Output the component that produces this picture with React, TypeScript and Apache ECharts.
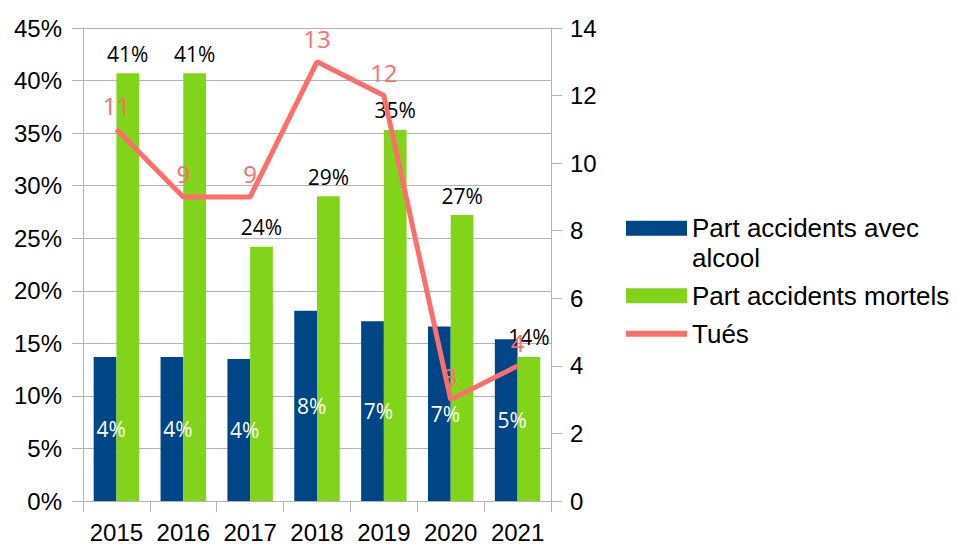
import React, { useEffect, useRef } from "react";
import * as echarts from "echarts";

const categories = ["2015", "2016", "2017", "2018", "2019", "2020", "2021"];
const alcoolShare = [13.7, 13.7, 13.5, 18.1, 17.1, 16.6, 15.4];
const mortelsShare = [40.7, 40.7, 24.2, 29.0, 35.3, 27.2, 13.7];
const tues = [11, 9, 9, 13, 12, 3, 4];

const seriesNames = ["Part accidents avec alcool", "Part accidents mortels", "Tués"];

const BLUE = "#004586";
const GREEN = "#81d41a";
const SALMON = "#ff6d6d";
const GRID = "#b3b3b3";
const AXIS_FONT = "'Liberation Sans', Arial, sans-serif";
const LABEL_FONT = "'Open Sans', sans-serif";

export default function App() {
  const ref = useRef<HTMLDivElement>(null);
  useEffect(() => {
    if (!ref.current) return;
    const chart = echarts.init(ref.current, undefined, { renderer: "svg" });
    chart.setOption({
      animation: false,
      backgroundColor: "#ffffff",
      grid: { left: 83, right: 406, top: 28, bottom: 43, containLabel: false },
      legend: {
        orient: "vertical",
        left: 618,
        top: 179,
        itemWidth: 61,
        itemHeight: 15,
        itemGap: 8.5,
        textStyle: { fontFamily: AXIS_FONT, fontSize: 26, color: "#000", lineHeight: 29.5 },
        formatter: (name: string) =>
          name === seriesNames[0] ? "\nPart accidents avec\nalcool" : name,
        data: [
          { name: seriesNames[0], icon: "rect" },
          { name: seriesNames[1], icon: "rect" },
          { name: seriesNames[2], lineStyle: { width: 6 } },
        ],
      },
      xAxis: {
        type: "category",
        data: categories,
        boundaryGap: true,
        axisLine: { show: true, lineStyle: { color: GRID } },
        axisTick: { show: true, length: 11, lineStyle: { color: GRID } },
        axisLabel: { fontFamily: AXIS_FONT, fontSize: 24, color: "#000", margin: 19, interval: 0 },
      },
      yAxis: [
        {
          type: "value",
          min: 0,
          max: 45,
          interval: 5,
          axisLine: { show: true, lineStyle: { color: GRID } },
          axisTick: { show: true, length: 11, lineStyle: { color: GRID } },
          splitLine: { show: true, lineStyle: { color: GRID } },
          axisLabel: {
            fontFamily: AXIS_FONT,
            fontSize: 24,
            color: "#000",
            margin: 21,
            formatter: "{value}%",
          },
        },
        {
          type: "value",
          min: 0,
          max: 14,
          interval: 2,
          position: "right",
          axisLine: { show: true, lineStyle: { color: GRID } },
          axisTick: { show: true, length: 11, lineStyle: { color: GRID } },
          splitLine: { show: false },
          axisLabel: { fontFamily: AXIS_FONT, fontSize: 24, color: "#000", margin: 19 },
        },
      ],
      series: [
        {
          name: seriesNames[0],
          type: "bar",
          data: alcoolShare,
          barWidth: "34%",
          barGap: "0%",
          itemStyle: { color: BLUE },
          label: {
            show: true,
            position: "inside",
            color: "#ffffff",
            fontFamily: LABEL_FONT,
            fontSize: 21,
            formatter: (p: any) => Math.round(p.value) + "%",
          },
        },
        {
          name: seriesNames[1],
          type: "bar",
          data: mortelsShare,
          barWidth: "34%",
          barGap: "0%",
          itemStyle: { color: GREEN },
          label: {
            show: true,
            position: "top",
            distance: 9,
            color: "#000000",
            fontFamily: LABEL_FONT,
            fontSize: 21,
            formatter: (p: any) => Math.round(p.value) + "%",
          },
        },
        {
          name: seriesNames[2],
          type: "line",
          yAxisIndex: 1,
          data: tues,
          symbol: "circle",
          symbolSize: 1,
          showSymbol: true,
          lineStyle: { color: SALMON, width: 5 },
          itemStyle: { color: "rgba(0,0,0,0)", borderWidth: 0 },
          label: {
            show: true,
            position: "top",
            distance: 11,
            color: SALMON,
            fontFamily: LABEL_FONT,
            fontSize: 24,
          },
          z: 3,
        },
      ],
    });
    return () => chart.dispose();
  }, []);
  return (
    <div
      ref={ref}
      style={{ position: "fixed", left: 0, top: 0, width: 957, height: 544, background: "#fff" }}
    />
  );
}
